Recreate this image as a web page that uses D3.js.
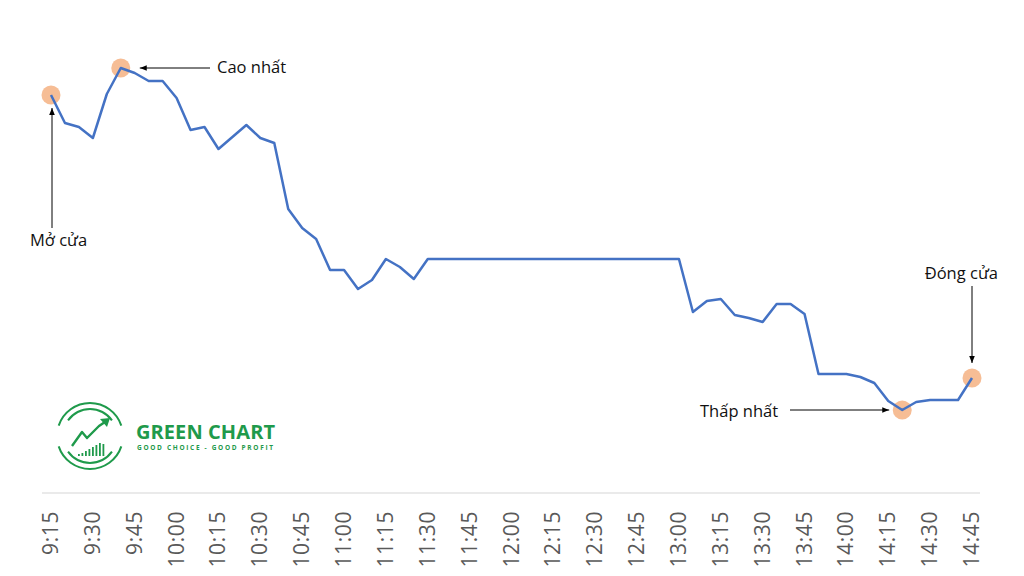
<!DOCTYPE html>
<html>
<head>
<meta charset="utf-8">
<script src="https://cdn.jsdelivr.net/npm/d3@7"></script>
<style>
  body { margin: 0; background: #fff; }
  svg { display: block; font-family: "Open Sans", sans-serif; }
</style>
</head>
<body>
<svg></svg>
<script>
var svg = d3.select("svg").attr("width", 1024).attr("height", 576);

// gia moi 5 phut, tu 9:15 den 14:45 (nghi trua 11:30 - 13:00)
var prices = [
    28.13, 27.85, 27.81, 27.70, 28.14, 28.40, 28.35, 28.27, 28.27, 28.10,
    27.78, 27.81, 27.59, 27.71, 27.83, 27.70, 27.65, 26.99, 26.80, 26.69,
    26.38, 26.38, 26.19, 26.28, 26.49, 26.41, 26.29, 26.49, 26.49, 26.49,
    26.49, 26.49, 26.49, 26.49, 26.49, 26.49, 26.49, 26.49, 26.49, 26.49,
    26.49, 26.49, 26.49, 26.49, 26.49, 26.49, 25.96, 26.07, 26.09, 25.93,
    25.90, 25.86, 26.04, 26.04, 25.94, 25.34, 25.34, 25.34, 25.31, 25.25,
    25.07, 24.98, 25.06, 25.08, 25.08, 25.08, 25.30
];
var tickLabels = ["9:15", "9:30", "9:45", "10:00", "10:15", "10:30", "10:45", "11:00",
    "11:15", "11:30", "11:45", "12:00", "12:15", "12:30", "12:45", "13:00",
    "13:15", "13:30", "13:45", "14:00", "14:15", "14:30", "14:45"];
// diem danh dau: mo cua, cao nhat, thap nhat, dong cua
var marks = [
    { name: "Mở cửa", i: 0 },
    { name: "Cao nhất", i: 5 },
    { name: "Thấp nhất", i: 61 },
    { name: "Đóng cửa", i: 66 }
];

var x = d3.scaleLinear().domain([0, prices.length - 1]).range([51, 972]);
var y = d3.scaleLinear().domain([24.0, 29.0]).range([508, 8]);

var blue = "#4472C4";
var green = "#1f9a4b";

// truc hoanh
svg.append("line")
    .attr("x1", 42).attr("x2", 980)
    .attr("y1", 493).attr("y2", 493)
    .attr("stroke", "#e3e3e3").attr("stroke-width", 1.5);

svg.append("g").selectAll("text")
    .data(tickLabels)
    .enter().append("text")
    .attr("transform", function (d, i) {
        return "translate(" + (x(i * 3) + 7) + ",511) rotate(-90)";
    })
    .attr("text-anchor", "end")
    .attr("fill", "#595959")
    .style("font-size", "21px")
    .style("letter-spacing", "0.6px")
    .text(function (d) { return d; });

// marker circles under line
svg.append("g").selectAll("circle")
    .data(marks)
    .enter().append("circle")
    .attr("cx", function (d) { return x(d.i); })
    .attr("cy", function (d) { return y(prices[d.i]); })
    .attr("r", 9.5)
    .attr("fill", "#f4b183")
    .attr("opacity", 0.85);

var line = d3.line()
    .x(function (d, i) { return x(i); })
    .y(function (d) { return y(d); });

svg.append("path")
    .datum(prices)
    .attr("d", line)
    .attr("fill", "none")
    .attr("stroke", blue)
    .attr("stroke-width", 2.5)
    .attr("stroke-linejoin", "round");

// arrows
svg.append("defs").append("marker")
    .attr("id", "arr")
    .attr("viewBox", "0 0 10 10")
    .attr("refX", 10).attr("refY", 5)
    .attr("markerWidth", 7).attr("markerHeight", 7)
    .attr("orient", "auto")
    .append("path")
    .attr("d", "M0,1 L10,5 L0,9 z")
    .attr("fill", "#000");

function annotate(i, x1, y1, dx, dy, label, tx, ty, anchor) {
    var px = x(i), py = y(prices[i]);
    svg.append("line")
        .attr("x1", x1).attr("y1", y1)
        .attr("x2", px + dx).attr("y2", py + dy)
        .attr("stroke", "#000").attr("stroke-width", 1)
        .attr("marker-end", "url(#arr)");
    svg.append("text")
        .attr("x", tx).attr("y", ty)
        .attr("text-anchor", anchor)
        .attr("fill", "#111")
        .style("font-size", "16.5px")
        .text(label);
}

annotate(0, x(0) + 1, 228, 1, 13, marks[0].name, 30, 246, "start");
annotate(5, 210, y(prices[5]), 19, 0, marks[1].name, 217, 73, "start");
annotate(61, 790, y(prices[61]), -13, 0, marks[2].name, 700, 417, "start");
annotate(66, x(66), 286, 0, -15, marks[3].name, 998, 279, "end");

// logo
var logo = svg.append("g").attr("transform", "translate(90,436)");
var arc = d3.arc();
[[33, -1.25, 1.25], [33, Math.PI - 1.25, Math.PI + 1.25],
 [27, -0.95, 0.95], [27, Math.PI - 0.95, Math.PI + 0.95]].forEach(function (a) {
    logo.append("path")
        .attr("d", arc({ innerRadius: a[0] - 1, outerRadius: a[0] + 1, startAngle: a[1], endAngle: a[2] }))
        .attr("fill", green);
});
var bars = [2, 3, 5, 7, 9, 11, 13, 12];
logo.selectAll("rect.b")
    .data(bars)
    .enter().append("rect")
    .attr("x", function (d, i) { return -12 + i * 3.5; })
    .attr("y", function (d) { return 20 - d; })
    .attr("width", 1.8)
    .attr("height", function (d) { return d; })
    .attr("fill", green);
logo.append("path")
    .attr("d", "M-18,10 L-8,-4 L-3,2 L9,-10 L15,-14")
    .attr("fill", "none")
    .attr("stroke", green)
    .attr("stroke-width", 2.4)
    .attr("stroke-linejoin", "round");
logo.append("path")
    .attr("d", "M20,-18 L10,-17 L17,-9 z")
    .attr("fill", green);

svg.append("text")
    .attr("x", 136).attr("y", 439)
    .attr("fill", green)
    .attr("textLength", 139)
    .style("font-size", "20px")
    .style("font-weight", "bold")
    .text("GREEN CHART");
svg.append("text")
    .attr("x", 137).attr("y", 450)
    .attr("fill", green)
    .attr("textLength", 136)
    .style("font-size", "6.5px")
    .style("font-weight", "bold")
    .text("GOOD CHOICE - GOOD PROFIT");
</script>
</body>
</html>
